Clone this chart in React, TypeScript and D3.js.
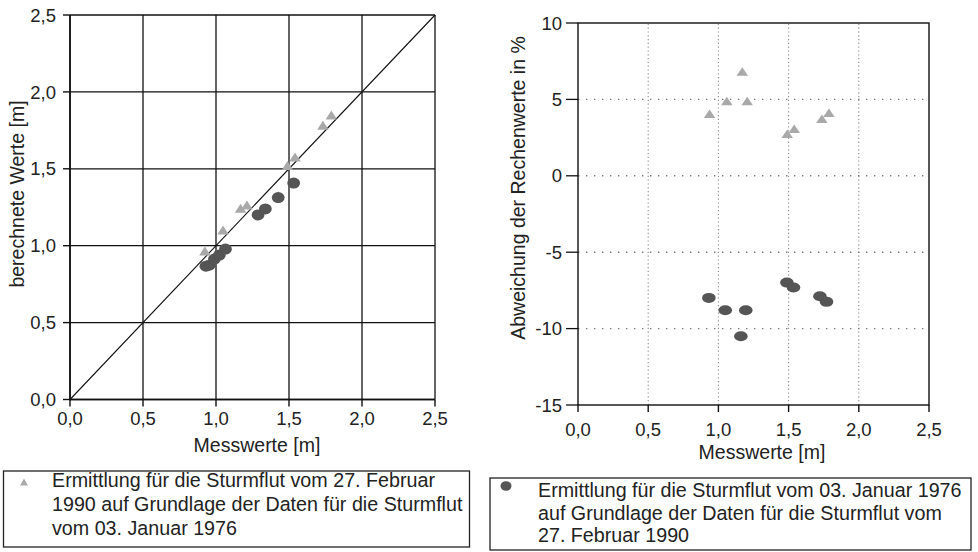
import React from "react";
import * as d3 from "d3";

// Left panel: measured vs. calculated water levels [m]
const triMeasured = [0.924, 1.048, 1.168, 1.212, 1.49, 1.541, 1.732, 1.79];
const triCalculated = [0.965, 1.102, 1.243, 1.265, 1.522, 1.576, 1.783, 1.849];
const dotMeasured = [0.931, 0.954, 0.989, 1.023, 1.065, 1.288, 1.338, 1.426, 1.532];
const dotCalculated = [0.867, 0.873, 0.913, 0.939, 0.978, 1.2, 1.239, 1.313, 1.407];

// Right panel: deviation of calculated values in %
const triDevMeasured = [0.937, 1.06, 1.17, 1.205, 1.49, 1.54, 1.737, 1.787];
const triDeviation = [4.06, 4.89, 6.83, 4.89, 2.75, 3.08, 3.73, 4.13];
const dotDevMeasured = [0.932, 1.049, 1.16, 1.195, 1.488, 1.535, 1.723, 1.77];
const dotDeviation = [-7.99, -8.8, -10.5, -8.8, -6.99, -7.31, -7.88, -8.25];

const meterTicks = [0, 0.5, 1.0, 1.5, 2.0, 2.5];
const percentTicks = [-15, -10, -5, 0, 5, 10];

const xTitle = "Messwerte [m]";
const yTitleLeft = "berechnete Werte [m]";
const yTitleRight = "Abweichung der Rechenwerte in %";
const legendTri = [
  "Ermittlung für die Sturmflut vom 27. Februar",
  "1990 auf Grundlage der Daten für die Sturmflut",
  "vom 03. Januar 1976",
];
const legendDot = [
  "Ermittlung für die Sturmflut vom 03. Januar 1976",
  "auf Grundlage der Daten für die Sturmflut vom",
  "27. Februar 1990",
];

const FONT = "'Liberation Sans', Arial, Helvetica, sans-serif";
const TRI_COLOR = "#a9a9a9";
const DOT_COLOR = "#555555";
const fmtM = (v: number) => d3.format(".1f")(v).replace(".", ",");

function triPath(cx: number, cy: number, w: number, h: number) {
  return `M${cx - w / 2},${cy + h / 2}L${cx + w / 2},${cy + h / 2}L${cx},${cy - h / 2}Z`;
}

export default function App() {
  const xL = d3.scaleLinear().domain([0, 2.5]).range([70, 435]);
  const yL = d3.scaleLinear().domain([0, 2.5]).range([399.5, 15]);
  const xR = d3.scaleLinear().domain([0, 2.5]).range([578, 929]);
  const yR = d3.scaleLinear().domain([-15, 10]).range([405, 23]);

  const diag = d3.line<number>().x((d) => xL(d)).y((d) => yL(d))([0, 2.5]) || "";

  return (
    <svg
      width={978}
      height={552}
      style={{ position: "absolute", left: 0, top: 0, background: "#fff" }}
      fontFamily={FONT}
    >
      <rect width={978} height={552} fill="#ffffff" />

      {/* ---------- left panel ---------- */}
      <g>
        {meterTicks.map((t) => (
          <line key={"gv" + t} x1={xL(t)} x2={xL(t)} y1={yL(0)} y2={yL(2.5)} stroke="#111" strokeWidth={1.3} />
        ))}
        {meterTicks.map((t) => (
          <line key={"gh" + t} x1={xL(0)} x2={xL(2.5)} y1={yL(t)} y2={yL(t)} stroke="#111" strokeWidth={1.3} />
        ))}
        <path d={diag} stroke="#111" strokeWidth={1.1} fill="none" />
        <line x1={xL(0)} x2={xL(0)} y1={yL(0) + 1} y2={yL(2.5)} stroke="#111" strokeWidth={1.6} />
        <line x1={xL(0)} x2={xL(2.5)} y1={yL(0)} y2={yL(0)} stroke="#111" strokeWidth={1.6} />
        {meterTicks.map((t) => (
          <g key={"xt" + t}>
            <line x1={xL(t)} x2={xL(t)} y1={yL(0)} y2={yL(0) + 7} stroke="#111" strokeWidth={1.4} />
            <text x={xL(t)} y={425} fontSize={18.5} textAnchor="middle" fill="#222">
              {fmtM(t)}
            </text>
          </g>
        ))}
        {meterTicks.map((t) => (
          <g key={"yt" + t}>
            <line x1={xL(0) - 7} x2={xL(0)} y1={yL(t)} y2={yL(t)} stroke="#111" strokeWidth={1.4} />
            <text x={56} y={yL(t)} dy="0.36em" fontSize={18.5} textAnchor="end" fill="#222">
              {fmtM(t)}
            </text>
          </g>
        ))}
        <text x={257} y={452} fontSize={19.5} textAnchor="middle" fill="#222">
          {xTitle}
        </text>
        <text transform="translate(24,194) rotate(-90)" fontSize={19.5} textAnchor="middle" fill="#222">
          {yTitleLeft}
        </text>
        {dotMeasured.map((m, i) => (
          <ellipse key={"ld" + i} cx={xL(m)} cy={yL(dotCalculated[i])} rx={6.4} ry={5.5} fill={DOT_COLOR} />
        ))}
        {triMeasured.map((m, i) => (
          <path key={"lt" + i} d={triPath(xL(m), yL(triCalculated[i]), 11.5, 9)} fill={TRI_COLOR} />
        ))}
      </g>

      {/* ---------- right panel ---------- */}
      <g>
        {meterTicks.slice(1, 5).map((t) => (
          <line key={"rgv" + t} x1={xR(t)} x2={xR(t)} y1={yR(-15)} y2={yR(10)} stroke="#8a8a8a" strokeWidth={1.1} strokeDasharray="1.2,2.6" />
        ))}
        {percentTicks.slice(1, 5).map((t) => (
          <line key={"rgh" + t} x1={xR(0)} x2={xR(2.5)} y1={yR(t)} y2={yR(t)} stroke="#7a7a7a" strokeWidth={1.4} strokeDasharray="1.4,6.6" />
        ))}
        <rect x={xR(0)} y={yR(10)} width={xR(2.5) - xR(0)} height={yR(-15) - yR(10)} fill="none" stroke="#111" strokeWidth={1.4} />
        {meterTicks.map((t) => (
          <g key={"rxt" + t}>
            <line x1={xR(t)} x2={xR(t)} y1={yR(-15)} y2={yR(-15) + 7} stroke="#111" strokeWidth={1.4} />
            <text x={xR(t)} y={436} fontSize={18.5} textAnchor="middle" fill="#222">
              {fmtM(t)}
            </text>
          </g>
        ))}
        {percentTicks.map((t) => (
          <g key={"ryt" + t}>
            <line x1={xR(0) - 12} x2={xR(0)} y1={yR(t)} y2={yR(t)} stroke="#111" strokeWidth={1.3} />
            <text x={562} y={yR(t)} dy="0.36em" fontSize={18.5} textAnchor="end" fill="#222">
              {String(t)}
            </text>
          </g>
        ))}
        <text x={762} y={459} fontSize={19.5} textAnchor="middle" fill="#222">
          {xTitle}
        </text>
        <text transform="translate(525,188) rotate(-90)" fontSize={19.5} textAnchor="middle" fill="#222">
          {yTitleRight}
        </text>
        {dotDevMeasured.map((m, i) => (
          <ellipse key={"rd" + i} cx={xR(m)} cy={yR(dotDeviation[i])} rx={6.8} ry={5} fill={DOT_COLOR} />
        ))}
        {triDevMeasured.map((m, i) => (
          <path key={"rt" + i} d={triPath(xR(m), yR(triDeviation[i]), 11.5, 8.5)} fill={TRI_COLOR} />
        ))}
      </g>

      {/* ---------- legends ---------- */}
      <g>
        <rect x={3.5} y={471} width={466} height={76} fill="none" stroke="#222" strokeWidth={1.3} />
        <path d={triPath(24, 482, 8, 7)} fill={TRI_COLOR} />
        {legendTri.map((s, i) => (
          <text key={"lt" + i} x={52} y={487 + i * 24} fontSize={19.7} fill="#222">
            {s}
          </text>
        ))}
      </g>
      <g>
        <rect x={490} y={478} width={481} height={72} fill="none" stroke="#222" strokeWidth={1.3} />
        <ellipse cx={506} cy={486} rx={5.5} ry={4.8} fill={DOT_COLOR} />
        {legendDot.map((s, i) => (
          <text key={"ld" + i} x={538} y={497 + i * 22.5} fontSize={19.7} fill="#222">
            {s}
          </text>
        ))}
      </g>
    </svg>
  );
}
